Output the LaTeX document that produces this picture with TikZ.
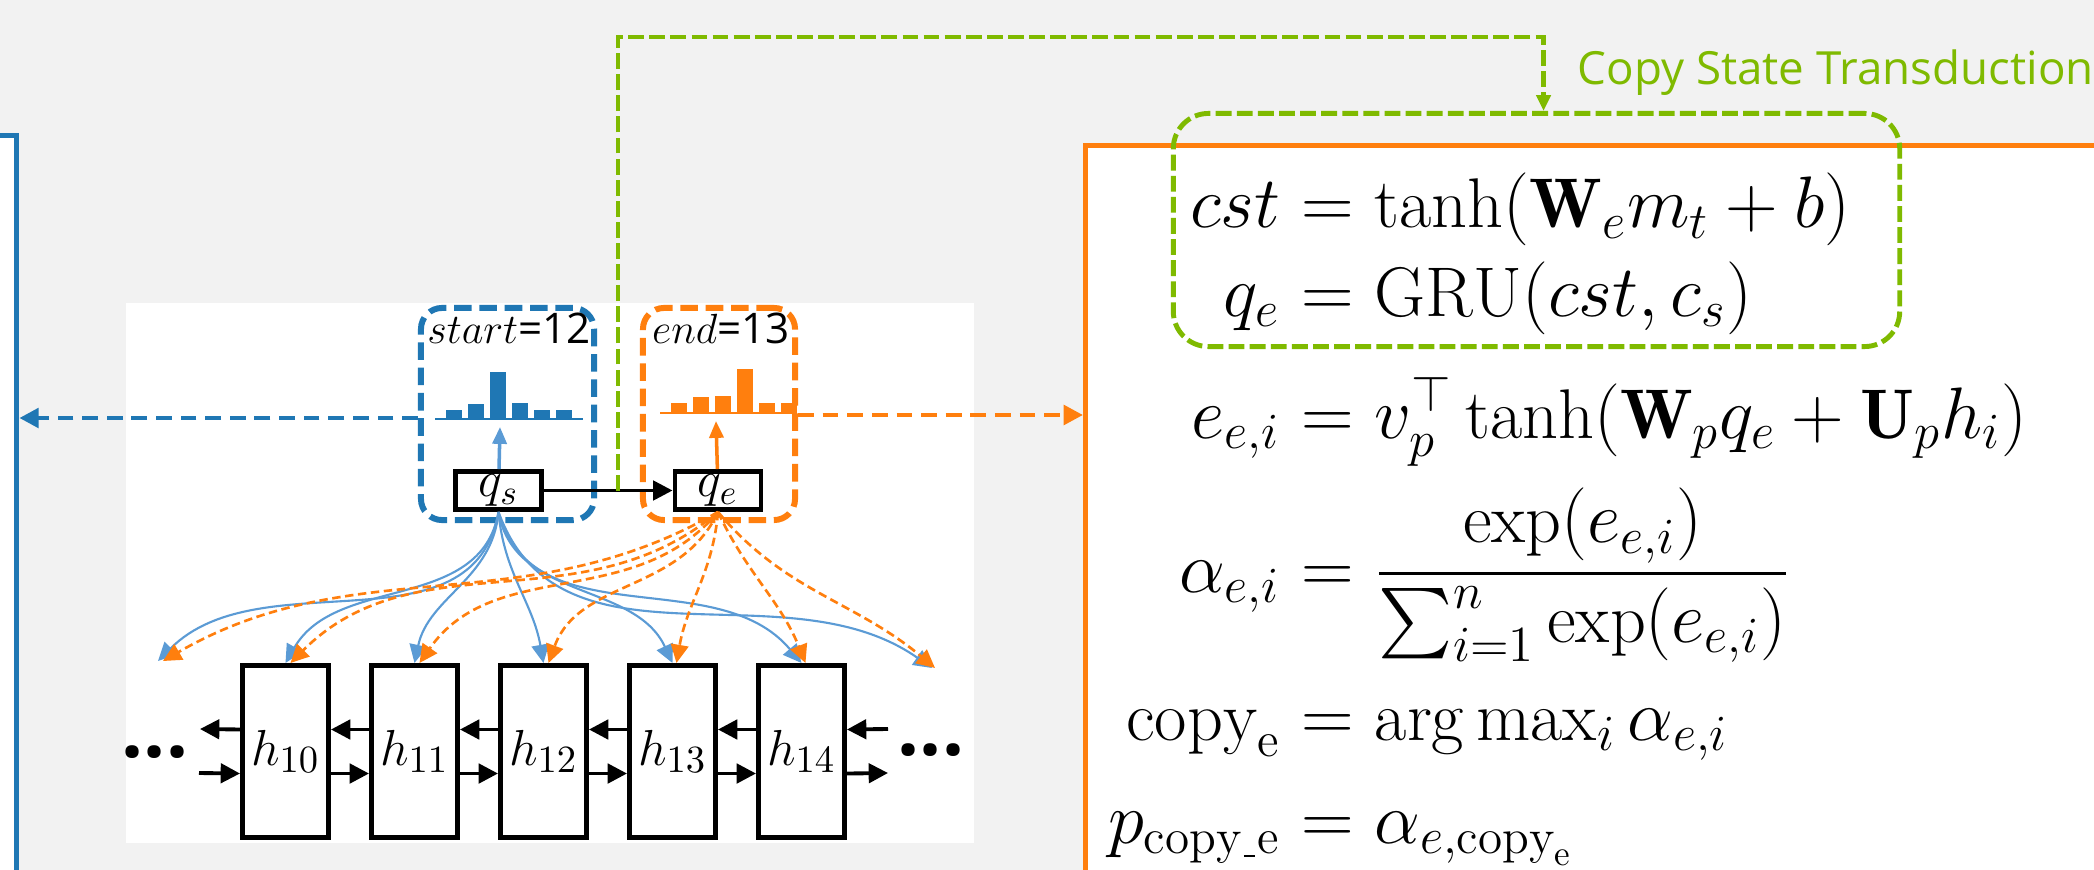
\documentclass[tikz,border=0pt]{standalone}
\usepackage{amsmath}
\usepackage{amssymb}
\usepackage{fontspec}
\setsansfont{Open Sans}
\usetikzlibrary{positioning, arrows.meta}
\definecolor{tblue}{RGB}{31,119,180}
\definecolor{lblue}{RGB}{91,155,213}
\definecolor{torange}{RGB}{255,127,14}
\definecolor{cgreen}{RGB}{127,186,0}
\definecolor{bggray}{RGB}{242,242,242}

\begin{document}
\begin{tikzpicture}[x=0.01cm,y=-0.01cm,>={Triangle[length=5.5pt,width=5.5pt]},node distance=0.38cm]
  \tikzstyle{hbox}=[rectangle,draw,line width=1.4pt,fill=white,minimum width=0.86cm,minimum height=1.72cm,inner sep=0pt,font=\fontsize{15}{18}\selectfont]
  \tikzstyle{qbox}=[rectangle,draw,line width=1.4pt,fill=white,minimum width=0.86cm,minimum height=0.38cm,inner sep=0pt,font=\fontsize{14}{16}\selectfont]
  \tikzstyle{bigbox}=[rectangle,line width=1.5pt,fill=white,anchor=north west]
  \tikzstyle{dashbox}=[rectangle,rounded corners=6pt,line width=1.7pt,dash pattern=on 5pt off 2.2pt]
  \tikzstyle{harrow}=[->,line width=1.1pt]
  \tikzstyle{attn}=[->,>={Triangle[length=5.2pt,width=5pt]},line width=0.6pt,lblue]
  \tikzstyle{attnend}=[attn,torange,line width=0.75pt,dash pattern=on 2.4pt off 1.3pt]
  \tikzstyle{cstline}=[cgreen,line width=1.4pt,dash pattern=on 4.5pt off 1.5pt]
  \tikzstyle{eq}=[anchor=base west,inner sep=0pt,font=\fontsize{20}{24}\selectfont]
  \tikzstyle{eql}=[eq,anchor=base east]
  \tikzstyle{dots}=[font=\sffamily\bfseries\fontsize{22}{24}\selectfont,inner sep=0pt]
  \tikzstyle{tag}=[anchor=base,inner sep=0pt,font=\fontsize{12}{14}\selectfont]

  \useasboundingbox (0,0) rectangle (2094,870);
  \clip (0,0) rectangle (2094,870);
  \fill[bggray] (0,0) rectangle (2094,870);

  % encoder side and decoder side
  \node[bigbox,draw=tblue,minimum width=2cm,minimum height=8cm] (encbox) at (-186,133) {};
  \node[bigbox,draw=torange,minimum width=11cm,minimum height=8cm] (rbox) at (1083,143) {};
  \fill[white] (126,303) rectangle (974,843);

  % pointer boxes
  \node[dashbox,draw=tblue,minimum width=1.73cm,minimum height=2.12cm] (sbox) at (507.5,414) {};
  \node[dashbox,draw=torange,minimum width=1.52cm,minimum height=2.12cm] (ebox) at (719,414) {};
  \node[tag] (slabel) at (509,343) {$start$\textsf{=12}};
  \node[tag] (elabel) at (721,343) {$end$\textsf{=13}};

  \draw[tblue,line width=0.8pt] (435,419) -- (583,419);
  \foreach \x/\h in {446/9,468/15,490/47,512/16,534/9,556/9}
    \fill[tblue] (\x,419) rectangle ++(16,-\h);
  \draw[torange,line width=0.8pt] (660,413) -- (797,413);
  \foreach \x/\h in {671/10,693/16,715/17,737/44,759/10,781/10}
    \fill[torange] (\x,413) rectangle ++(16,-\h);

  \node[qbox] (qs) at (498.5,490.5) {$q_s$};
  \node[qbox] (qe) at (718,490.5) {$q_e$};
  \coordinate (shist) at (500,427);
  \coordinate (ehist) at (716,421);
  \draw[->,line width=1pt] (qs) -- (qe);
  \draw[->,lblue,line width=1pt,>={Triangle[length=4.8pt,width=4pt]}] (qs) -- (shist);
  \draw[->,torange,line width=1pt,>={Triangle[length=4.8pt,width=4pt]}] (qe) -- (ehist);

  \draw[->,tblue,line width=1.3pt,dash pattern=on 4.5pt off 2.5pt] ([yshift=-0.04cm]sbox.west) -- ([yshift=-0.04cm]sbox.west -| encbox.east);
  \draw[->,torange,line width=1.3pt,dash pattern=on 4.5pt off 2.5pt] ([yshift=-0.01cm]ebox.east) -- ([yshift=-0.01cm]ebox.east -| rbox.west);

  % encoder states
  \node[hbox] (h10) at (285.5,751.5) {$h_{10}$};
  \node[hbox,right=of h10] (h11) {$h_{11}$};
  \node[hbox,right=of h11] (h12) {$h_{12}$};
  \node[hbox,right=of h12] (h13) {$h_{13}$};
  \node[hbox,right=of h13] (h14) {$h_{14}$};
  \node[dots] (ldots) at (155,752) {...};
  \node[dots] (rdots) at (931,750) {...};
  \coordinate (lin) at (199,773);
  \coordinate (lout) at (200,729);
  \coordinate (rin) at (888,729);
  \coordinate (rout) at (888,773);
  \foreach \a/\b in {h10/h11,h11/h12,h12/h13,h13/h14} {
    \draw[harrow] ([yshift=-0.22cm]\a.east) -- ([yshift=-0.22cm]\b.west);
    \draw[harrow] ([yshift=0.22cm]\b.west) -- ([yshift=0.22cm]\a.east);
  }
  \draw[harrow] (lin) -- ([yshift=-0.22cm]h10.west);
  \draw[harrow] ([yshift=0.22cm]h10.west) -- (lout);
  \draw[harrow] (rin) -- ([yshift=0.22cm]h14.east);
  \draw[harrow] ([yshift=-0.22cm]h14.east) -- (rout);

  % attention
  \coordinate (lt) at (158,661);
  \coordinate (rt) at (932,668);
  \path[attn] (qs.south) edge[out=-100,in=45] (lt)
              (qs.south) edge[out=-100,in=60] (h10.north)
              (qs.south) edge[out=-95,in=78] (h11.north)
              (qs.south) edge[out=-85,in=100] (h12.north)
              (qs.south) edge[out=-80,in=115] (h13.north)
              (qs.south) edge[out=-75,in=130] (h14.north)
              (qs.south) edge[out=-70,in=145] (rt);
  \path[attnend] (qe.south) edge[out=-150,in=30] ([xshift=0.05cm]lt)
                 (qe.south) edge[out=-140,in=45] ([xshift=0.05cm]h10.north)
                 (qe.south) edge[out=-130,in=55] ([xshift=0.05cm]h11.north)
                 (qe.south) edge[out=-115,in=70] ([xshift=0.05cm]h12.north)
                 (qe.south) edge[out=-95,in=80] ([xshift=0.04cm]h13.north)
                 (qe.south) edge[out=-65,in=112] ([xshift=0.04cm]h14.north)
                 (qe.south) edge[out=-50,in=140] ([xshift=0.03cm]rt);

  % copy state transduction
  \node[draw,cstline,rounded corners=10pt,minimum width=7.26cm,minimum height=2.33cm] (cstbox) at (1536.5,230) {};
  \coordinate (gsrc) at (618,491);
  \coordinate (gtop) at (618,37);
  \draw[cstline,->,>={Triangle[length=4.5pt,width=4pt]}] (gsrc) -- (gtop) -| ([xshift=0.07cm]cstbox.north);
  \node[anchor=base west,cgreen,inner sep=0pt,font=\sffamily\fontsize{13}{15}\selectfont] (cstlabel) at (1577,85) {Copy State Transduction};

  % equations, lined up on the = signs
  \node[eql] (cstL) at (1281,228) {$cst$};
  \node[eq] (cstR) at (1281,228) {${}=\tanh(\mathbf{W}_e m_t + b)$};
  \node[eql] (gruL) at (1281,316) {$q_e$};
  \node[eq] (gruR) at (1281,316) {${}=\mathrm{GRU}(cst, c_s)$};
  \node[eql] (scoreL) at (1281,438) {$e_{e,i}$};
  \node[eq] (scoreR) at (1281,438) {${}=v_p^{\top} \tanh(\mathbf{W}_p q_e + \mathbf{U}_p h_i)$};
  \node[eql] (alphaL) at (1281,592) {$\alpha_{e,i}$};
  \node[eq] (alphaR) at (1281,592) {${}=\dfrac{\exp(e_{e,i})}{\sum_{i=1}^n \exp(e_{e,i})}$};
  \node[eql] (copyL) at (1281,740) {$\mathrm{copy}_\mathrm{e}$};
  \node[eq] (copyR) at (1281,740) {${}=\arg\max_i \alpha_{e,i}$};
  \node[eql] (probL) at (1281,843) {$p_{\mathrm{copy}\kern.03em\rule[-.04em]{.16em}{.03em}\kern.03em\mathrm{e}}$};
  \node[eq] (probR) at (1281,843) {${}=\alpha_{e,\mathrm{copy}_\mathrm{e}}$};
\end{tikzpicture}
\end{document}
